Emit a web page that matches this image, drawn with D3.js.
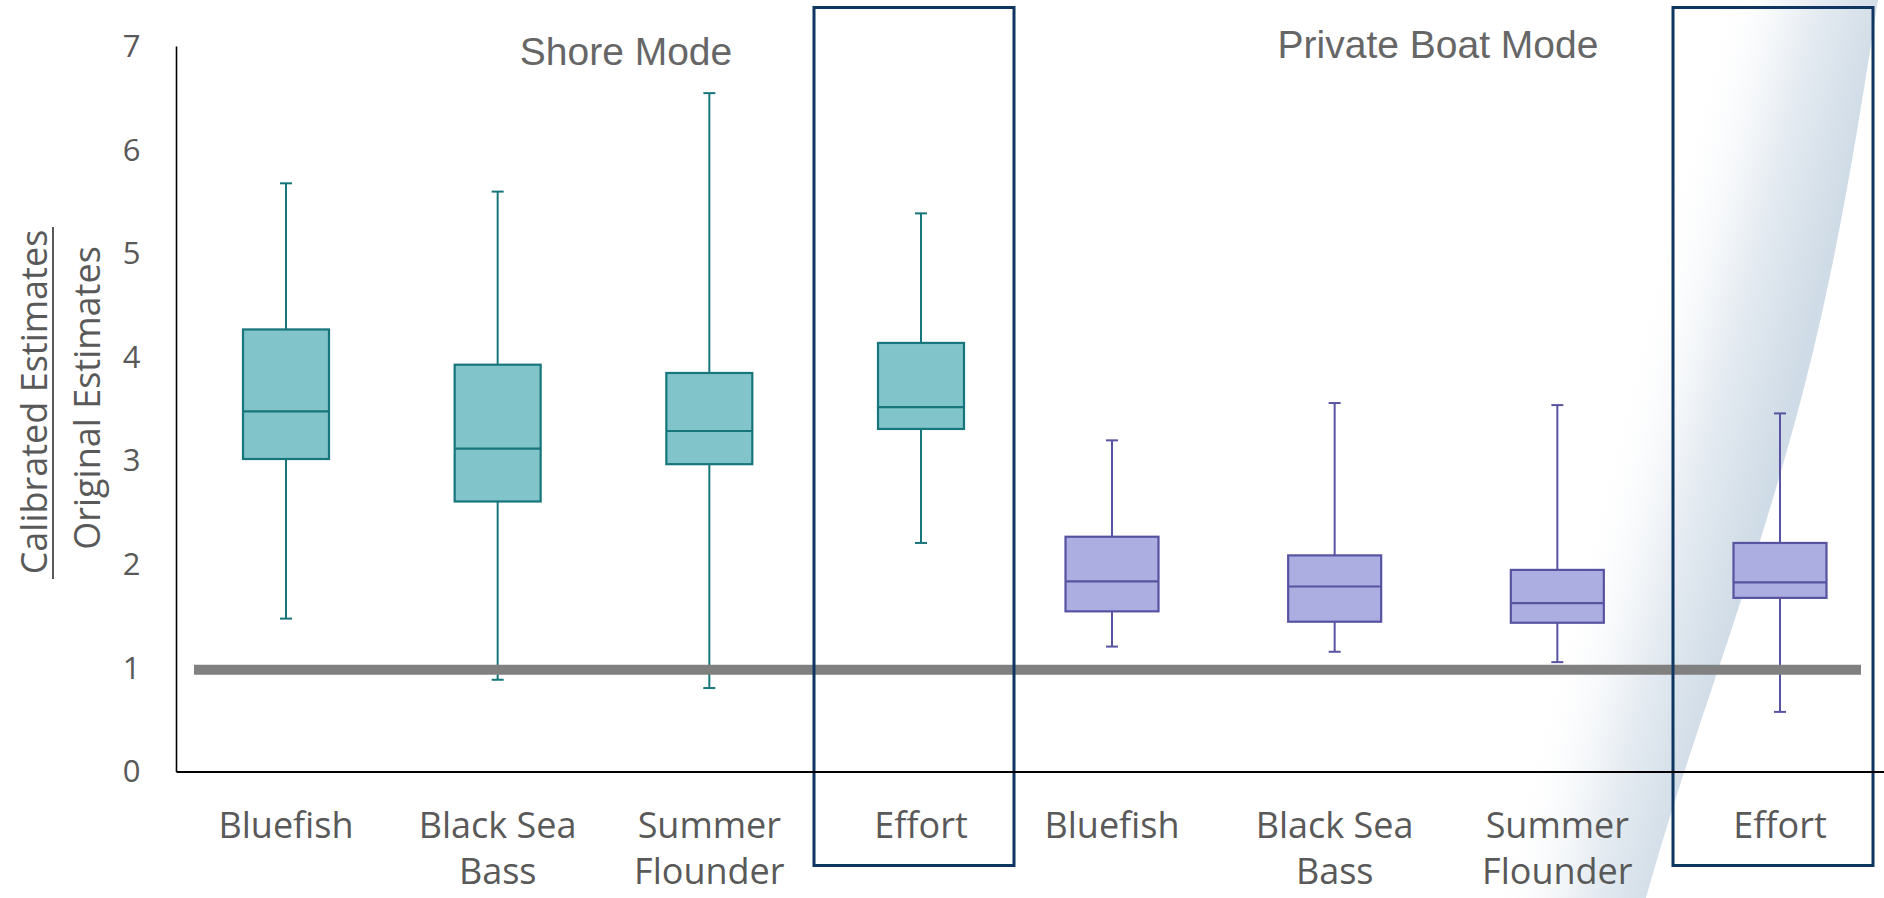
<!DOCTYPE html>
<html>
<head>
<meta charset="utf-8">
<script src="https://cdn.jsdelivr.net/npm/d3@7"></script>
<style>
  html, body { margin: 0; padding: 0; background: #ffffff; }
  svg { display: block; }
</style>
</head>
<body>
<svg id="chart" width="1884" height="898"></svg>
<script>
// ---------- data ----------
const categories = ["Bluefish", "Black Sea Bass", "Summer Flounder", "Effort"];
const categoryLabelLines = [["Bluefish"], ["Black Sea", "Bass"], ["Summer", "Flounder"], ["Effort"]];

const shoreMin    = [1.48, 0.89, 0.81, 2.21];
const shoreQ1     = [3.02, 2.61, 2.97, 3.31];
const shoreMedian = [3.48, 3.12, 3.29, 3.52];
const shoreQ3     = [4.27, 3.93, 3.85, 4.14];
const shoreMax    = [5.68, 5.60, 6.55, 5.39];

const boatMin    = [1.21, 1.16, 1.06, 0.58];
const boatQ1     = [1.55, 1.45, 1.44, 1.68];
const boatMedian = [1.84, 1.79, 1.63, 1.83];
const boatQ3     = [2.27, 2.09, 1.95, 2.21];
const boatMax    = [3.20, 3.56, 3.54, 3.46];

const yTicks = [0, 1, 2, 3, 4, 5, 6, 7];
const referenceValue = 1;
const modeTitles = ["Shore Mode", "Private Boat Mode"];
const yTitleTop = "Calibrated Estimates";
const yTitleBottom = "Original Estimates";
const highlightCategory = "Effort";

// ---------- layout ----------
const svg = d3.select("#chart");
const axisLeft = 176.5, axisRight = 1884, axisBottom = 772, axisTop = 46.5;

const y = d3.scaleLinear().domain([0, 7]).range([axisBottom, axisTop]);
const xShore = d3.scalePoint().domain(categories).range([286, 921]);
const xBoat  = d3.scalePoint().domain(categories).range([1112, 1780]);

const defs = svg.append("defs");

// decorative swoosh on the right
const grad = defs.append("linearGradient")
  .attr("id", "swoosh").attr("gradientUnits", "userSpaceOnUse")
  .attr("x1", 1577).attr("y1", 555).attr("x2", 1742).attr("y2", 597);
grad.append("stop").attr("offset", 0).attr("stop-color", "#ffffff").attr("stop-opacity", 0);
grad.append("stop").attr("offset", 0.55).attr("stop-color", "#e6ecf2").attr("stop-opacity", 1);
grad.append("stop").attr("offset", 1).attr("stop-color", "#cfdbe6").attr("stop-opacity", 1);

const edge = [[1878, 0], [1806, 380], [1698, 730], [1646, 898]];
const edgePath = d3.line().curve(d3.curveNatural)(edge);
svg.append("path")
  .attr("d", edgePath + " L1380,898 L1380,0 Z")
  .attr("fill", "url(#swoosh)");

// ---------- boxes ----------
function drawBoxes(xs, mins, q1s, meds, q3s, maxs, fill, stroke, boxW) {
  const g = svg.append("g");
  categories.forEach((c, i) => {
    const cx = xs(c);
    const cap = 12;
    g.append("line").attr("x1", cx).attr("x2", cx).attr("y1", y(maxs[i])).attr("y2", y(q3s[i]))
      .attr("stroke", stroke).attr("stroke-width", 2);
    g.append("line").attr("x1", cx).attr("x2", cx).attr("y1", y(q1s[i])).attr("y2", y(mins[i]))
      .attr("stroke", stroke).attr("stroke-width", 2);
    g.append("line").attr("x1", cx - cap / 2).attr("x2", cx + cap / 2).attr("y1", y(maxs[i])).attr("y2", y(maxs[i]))
      .attr("stroke", stroke).attr("stroke-width", 2);
    g.append("line").attr("x1", cx - cap / 2).attr("x2", cx + cap / 2).attr("y1", y(mins[i])).attr("y2", y(mins[i]))
      .attr("stroke", stroke).attr("stroke-width", 2);
    g.append("rect").attr("x", cx - boxW / 2).attr("width", boxW)
      .attr("y", y(q3s[i])).attr("height", y(q1s[i]) - y(q3s[i]))
      .attr("fill", fill).attr("stroke", stroke).attr("stroke-width", 2.2);
    g.append("line").attr("x1", cx - boxW / 2).attr("x2", cx + boxW / 2)
      .attr("y1", y(meds[i])).attr("y2", y(meds[i]))
      .attr("stroke", stroke).attr("stroke-width", 2.2);
  });
}
drawBoxes(xShore, shoreMin, shoreQ1, shoreMedian, shoreQ3, shoreMax, "#81c4c9", "#17767b", 86);
drawBoxes(xBoat, boatMin, boatQ1, boatMedian, boatQ3, boatMax, "#acade0", "#5853a0", 93);

// ---------- reference line ----------
svg.append("line")
  .attr("x1", 194).attr("x2", 1861)
  .attr("y1", y(referenceValue) + 1.5).attr("y2", y(referenceValue) + 1.5)
  .attr("stroke", "#808080").attr("stroke-width", 10);

// ---------- highlight frames ----------
[xShore, xBoat].forEach(xs => {
  const cx = xs(highlightCategory) - 7;
  svg.append("rect")
    .attr("x", cx - 100).attr("width", 200)
    .attr("y", 7.5).attr("height", 858)
    .attr("fill", "none").attr("stroke", "#0f3561").attr("stroke-width", 3);
});

// ---------- axes ----------
svg.append("line").attr("x1", axisLeft).attr("x2", axisLeft).attr("y1", axisTop).attr("y2", axisBottom)
  .attr("stroke", "#000").attr("stroke-width", 1.6);
svg.append("line").attr("x1", axisLeft).attr("x2", axisRight).attr("y1", axisBottom).attr("y2", axisBottom)
  .attr("stroke", "#000").attr("stroke-width", 2);

const yAxis = d3.axisLeft(y).tickValues(yTicks).tickSize(0).tickPadding(36).tickFormat(d3.format("d"));
const yg = svg.append("g").attr("transform", `translate(${axisLeft},0)`).call(yAxis);
yg.select(".domain").remove();
yg.selectAll("text")
  .attr("font-family", "'Open Sans', 'Noto Sans', sans-serif")
  .attr("font-size", 31).attr("fill", "#595959");

// x labels
[xShore, xBoat].forEach(xs => {
  categories.forEach((c, i) => {
    const t = svg.append("text")
      .attr("x", xs(c)).attr("y", 838)
      .attr("text-anchor", "middle")
      .attr("font-family", "'Open Sans', 'Noto Sans', sans-serif")
      .attr("font-size", 36).attr("fill", "#595959");
    categoryLabelLines[i].forEach((line, k) => {
      t.append("tspan").attr("x", xs(c)).attr("dy", k === 0 ? 0 : 46).text(line);
    });
  });
});

// mode titles
svg.append("text").attr("x", 626).attr("y", 65).attr("text-anchor", "middle")
  .attr("font-family", "'Liberation Sans', Arial, sans-serif").attr("font-size", 39)
  .attr("fill", "#666666").text(modeTitles[0]);
svg.append("text").attr("x", 1438).attr("y", 58).attr("text-anchor", "middle")
  .attr("font-family", "'Liberation Sans', Arial, sans-serif").attr("font-size", 39)
  .attr("fill", "#666666").text(modeTitles[1]);

// y axis title (fraction)
const yTitleCenter = 402;
svg.append("text")
  .attr("transform", `translate(47,${yTitleCenter}) rotate(-90)`)
  .attr("text-anchor", "middle")
  .attr("font-family", "'Open Sans', 'Noto Sans', sans-serif")
  .attr("font-size", 36).attr("fill", "#595959")
  .text(yTitleTop);
svg.append("line")
  .attr("x1", 53).attr("x2", 53).attr("y1", 227).attr("y2", 579)
  .attr("stroke", "#595959").attr("stroke-width", 2);
svg.append("text")
  .attr("transform", `translate(100,${yTitleCenter - 4}) rotate(-90)`)
  .attr("text-anchor", "middle")
  .attr("font-family", "'Open Sans', 'Noto Sans', sans-serif")
  .attr("font-size", 36).attr("fill", "#595959")
  .text(yTitleBottom);
</script>
</body>
</html>
